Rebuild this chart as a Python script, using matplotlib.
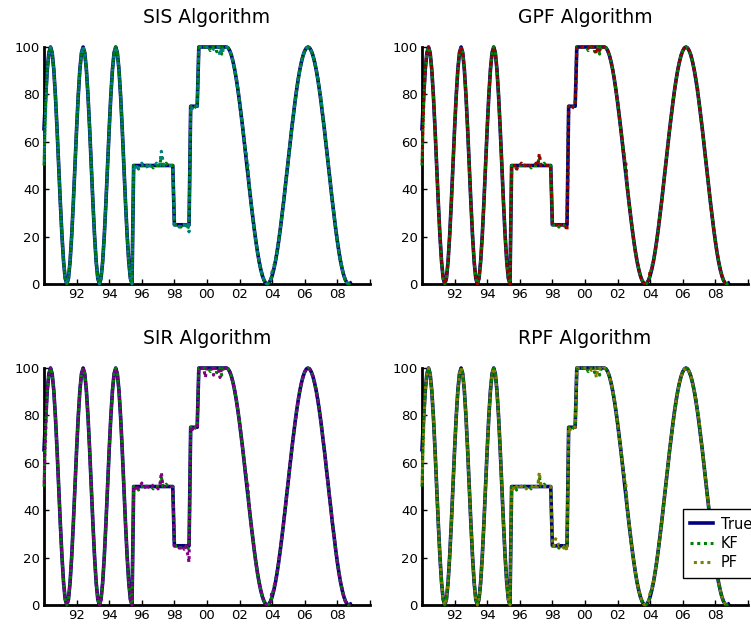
import numpy as np
import matplotlib
matplotlib.use("Agg")
import matplotlib.pyplot as plt

# time axis: 1990.0 .. 2008.8 in steps of 0.1 year
years = np.round(1990 + 0.1 * np.arange(189), 1)

# true signal
sine_part = [65.5, 79.4, 90.5, 97.6,
             100, 97.6, 90.5, 79.4, 65.5, 50, 34.5, 20.6, 9.5, 2.4,
             0, 2.4, 9.5, 20.6, 34.5, 50, 65.5, 79.4, 90.5, 97.6,
             100, 97.6, 90.5, 79.4, 65.5, 50, 34.5, 20.6, 9.5, 2.4,
             0, 2.4, 9.5, 20.6, 34.5, 50, 65.5, 79.4, 90.5, 97.6,
             100, 97.6, 90.5, 79.4, 65.5, 50, 34.5, 20.6, 9.5, 2.4, 0]
block_part = [50] * 25 + [25] * 10 + [75] * 5 + [100] * 17
wave_part = [100, 99.6, 98.4, 96.5, 93.8, 90.5, 86.5, 81.9, 76.8, 71.3,
             65.5, 59.4, 53.1, 46.9, 40.6, 34.5, 28.7, 23.2, 18.1, 13.5,
             9.5, 6.2, 3.5, 1.6, 0.4, 0,
             0.4, 1.6, 3.5, 6.2, 9.5, 13.5, 18.1, 23.2, 28.7, 34.5,
             40.6, 46.9, 53.1, 59.4, 65.5, 71.3, 76.8, 81.9, 86.5, 90.5,
             93.8, 96.5, 98.4, 99.6, 100,
             99.6, 98.4, 96.5, 93.8, 90.5, 86.5, 81.9, 76.8, 71.3, 65.5,
             59.4, 53.1, 46.9, 40.6, 34.5, 28.7, 23.2, 18.1, 13.5, 9.5,
             6.2, 3.5, 1.6, 0.4, 0, 0.4]
true_vals = np.array(sine_part + block_part + wave_part, dtype=float)

# estimation errors (year -> offset from the true value)
kf_err = {1990.0: -15.5, 1990.1: -4, 1995.8: -1.5, 1996.2: 1, 1996.7: -1,
          1997.2: 4, 1997.5: 1, 1998.4: -1, 1998.8: -2, 1999.2: -1,
          2000.2: -1.5, 2000.6: -2, 2000.9: -3, 2002.4: 2, 2004.1: 1.5,
          2006.8: 1}
pf_err = {
    "SIS": {1990.0: -15.5, 1990.1: -6, 1995.7: -2, 1996.0: 1, 1996.4: -1.5,
            1996.9: 1, 1997.2: 6, 1997.3: 2, 1998.3: -1, 1998.7: -1,
            1998.9: -3, 1999.1: -1, 2000.4: -1, 2000.8: -3.5, 2001.0: -1.5,
            2002.5: 4, 2004.0: 2, 2007.0: 1.5},
    "GPF": {1990.0: -15.5, 1990.1: -5, 1995.8: -2, 1996.1: 1, 1996.5: -1,
            1997.0: 1, 1997.2: 5, 1998.4: -1, 1998.9: -2.5, 1999.2: -1,
            2000.3: -1, 2000.7: -3, 2000.9: -1.5, 2002.5: 5, 2004.0: 2,
            2006.9: 1.5},
    "SIR": {1990.0: -15.5, 1990.1: -8, 1995.7: -2, 1996.0: 1.5, 1996.3: -1.5,
            1996.6: 1, 1997.0: -1, 1997.2: 6, 1998.3: -1, 1998.6: -1.5,
            1998.8: -3, 1998.9: -7, 1999.1: -1, 1999.9: -4, 2000.4: -3,
            2000.8: -4, 2002.5: 4, 2004.0: 3, 2006.9: 1},
    "RPF": {1990.0: -15.5, 1990.1: -6, 1995.7: -1.5, 1996.0: 1, 1996.4: -1,
            1996.9: 1, 1997.2: 6, 1998.2: 3, 1998.3: 2, 1998.7: -1,
            1998.9: -2, 1999.1: -1, 2000.4: -1, 2000.7: -4, 2001.0: -1,
            2002.5: 5, 2004.0: 2, 2007.0: 1.5},
}

panels = ["SIS", "GPF", "SIR", "RPF"]
pf_colors = {"SIS": "#008080", "GPF": "#990000", "SIR": "#800080", "RPF": "#808000"}
axes_pos = {"SIS": [0.0586, 0.5463, 0.434, 0.3786],
            "GPF": [0.5619, 0.5463, 0.434, 0.3786],
            "SIR": [0.0586, 0.0335, 0.434, 0.3786],
            "RPF": [0.5619, 0.0335, 0.434, 0.3786]}

xticks = np.arange(1990, 2011, 2)
xlabels = ["" if y in (1990, 2010) else f"{y % 100:02d}" for y in xticks]


def with_errors(err):
    vals = true_vals.copy()
    for yr, d in err.items():
        vals[np.argmin(np.abs(years - yr))] += d
    return vals


kf_vals = with_errors(kf_err)

fig = plt.figure(figsize=(7.51, 6.26), dpi=100)
for name in panels:
    ax = fig.add_axes(axes_pos[name])
    ax.plot(years, true_vals, color="#000080", lw=2.6, label="True",
            clip_on=False, zorder=2)
    ax.plot(years, kf_vals, color="#008000", lw=2.2, ls=(0, (1, 1.2)),
            label="KF", clip_on=False, zorder=3)
    ax.plot(years, with_errors(pf_err[name]), color=pf_colors[name], lw=2.2,
            ls=(1.1, (1, 1.2)), label="PF", clip_on=False, zorder=4)

    ax.set_xlim(1990, 2010)
    ax.set_ylim(0, 100)
    ax.set_xticks(xticks)
    ax.set_xticklabels(xlabels)
    ax.set_yticks(np.arange(0, 101, 20))
    ax.tick_params(direction="in", length=3.5, width=1, labelsize=9.5, pad=3)
    for s in ["top", "right"]:
        ax.spines[s].set_visible(False)
    for s in ["left", "bottom"]:
        ax.spines[s].set_linewidth(2)
    ax.set_title(f"{name} Algorithm", fontsize=13.5, pad=17)

    if name == "RPF":
        leg = ax.legend(loc="lower left", bbox_to_anchor=(0.778, 0.085),
                        fancybox=False, framealpha=1, edgecolor="black",
                        fontsize=10.5, handlelength=1.6, handletextpad=0.5,
                        borderpad=0.5, labelspacing=0.3)
        leg.get_frame().set_linewidth(1)

fig.savefig("out.png", dpi=100)
